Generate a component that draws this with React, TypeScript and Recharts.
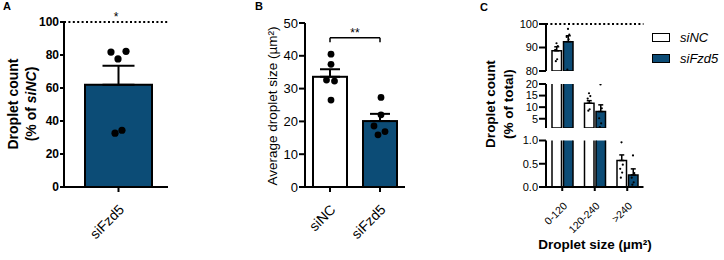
import React from 'react';
import { ComposedChart, Bar, Scatter, XAxis, YAxis, ErrorBar, ReferenceLine } from 'recharts';

const FONT = '"Liberation Sans", Arial, Helvetica, sans-serif';
const BLUE = '#0c4c76';
const INK = '#000';

// A: droplet count, % of siNC
const countGroups = ['siFzd5'];
const countMean = [62.0];
const countSem = [11.5];
const countDots = [81.8, 82.2, 77.6, 32.6, 34.4];
const countJitter = [-0.076, 0.076, -0.005, -0.035, 0.035];

// B: average droplet size (µm²)
const sizeGroups = ['siNC', 'siFzd5'];
const sizeMean = [33.6, 20.1];
const sizeSem = [2.3, 2.2];
const sizeDots = [
  [40.5, 37.4, 32.6, 32.3, 26.5],
  [27.3, 22.0, 18.6, 16.9, 15.9],
];
const sizeJitter = [
  [0.02, 0.02, -0.07, 0.09, 0.02],
  [0.02, 0.02, -0.12, 0.1, -0.04],
];
const bracketLevel = 45.5;
const bracketDrop = 44.1;

// C: droplet count, % of total, per size bin
const sizeBins = ['0-120', '120-240', '>240'];
const siNCShare = [88.6, 11.7, 0.57];
const siNCShareSem = [1.7, 1.1, 0.12];
const siFzd5Share = [92.5, 8.1, 0.26];
const siFzd5ShareSem = [2.5, 2.9, 0.13];
const siNCShareDots = [
  [91.8, 90.6, 89.0, 85.0, 84.2],
  [16.0, 14.8, 13.7, 9.1, 8.5],
  [0.96, 0.48, 0.39, 0.31, 0.2],
];
const siFzd5ShareDots = [
  [97.9, 95.5, 94.5, 93.5, 80.6],
  [19.8, 9.5, 5.2, 3.0, 1.4],
  [0.68, 0.3, 0.2, 0.1, 0.05],
];
const shareJitter = [0.0, 0.04, -0.04, 0.02, -0.02];
const legendItems = [
  { name: 'siNC', fill: '#fff' },
  { name: 'siFzd5', fill: BLUE },
];

type Segment = { lo: number; hi: number; ticks: number[]; top: number; bottom: number; decimals: number };
const segments: Segment[] = [
  { lo: 80, hi: 100, ticks: [80, 90, 100], top: 24, bottom: 189, decimals: 0 },
  { lo: 1, hi: 20, ticks: [5, 10, 15, 20], top: 84, bottom: 132, decimals: 0 },
  { lo: 0, hi: 1, ticks: [0, 0.5, 1], top: 140.5, bottom: 0, decimals: 1 },
];

const axisLine = { stroke: INK, strokeWidth: 2 };
const tickLine = { stroke: INK, strokeWidth: 2 };

const dotShape = (r: number) => (p: any) => <circle cx={p.cx} cy={p.cy} r={r} fill={INK} />;

function SlantTick(props: any) {
  const { x, y, payload, fs, dy } = props;
  return (
    <g transform={`translate(${x + 3},${y + dy}) rotate(-45)`}>
      <text x={0} y={0} dy="0.35em" textAnchor="end" fontSize={fs} fontFamily={FONT} fill={INK}>
        {payload.value}
      </text>
    </g>
  );
}

function RotatedLines({ lines, cy, size, weight }: any) {
  return (
    <g fontFamily={FONT} fontSize={size} fontWeight={weight} fill={INK}>
      {lines.map((l: any, i: number) => (
        <text key={i} transform={`translate(${l.x},${cy}) rotate(-90)`} textAnchor="middle" dominantBaseline="central">
          {l.content}
        </text>
      ))}
    </g>
  );
}

function CountChart() {
  const rows = countGroups.map((g, i) => ({ group: g, mean: countMean[i], err: [0, countSem[i]] }));
  const dots = countDots.map((v, k) => ({ x: countJitter[k], v }));
  return (
    <ComposedChart width={200} height={260} data={rows} margin={{ top: 22, right: 32, bottom: 0, left: 0 }}>
      <XAxis xAxisId="cat" dataKey="group" height={73} padding={{ left: 5, right: 0 }} interval={0} tickSize={5}
        axisLine={axisLine} tickLine={tickLine} tick={(p: any) => <SlantTick {...p} fs={14} dy={13} />} />
      <XAxis xAxisId="dot" type="number" dataKey="x" domain={[-0.5, 0.5]} allowDataOverflow hide padding={{ left: 5, right: 0 }} />
      <YAxis width={64} domain={[0, 100]} ticks={[0, 20, 40, 60, 80, 100]} interval={0} tickSize={4} tickMargin={1}
        axisLine={axisLine} tickLine={tickLine}
        tick={{ fill: INK, fontSize: 12, fontWeight: 700, fontFamily: FONT }}
        label={<RotatedLines cy={104} size={14} weight={700} lines={[
          { x: 13, content: 'Droplet count' },
          { x: 31, content: <>(% of <tspan fontStyle="italic">siNC</tspan>)</> },
        ]} />} />
      <ReferenceLine xAxisId="cat" y={100} stroke={INK} strokeWidth={2} strokeDasharray="2 2.4"
        label={{ value: '*', position: 'top', fill: INK, fontSize: 12, fontFamily: FONT, offset: 1 }} />
      <Bar xAxisId="cat" dataKey="mean" barSize={67} fill={BLUE} stroke={INK} strokeWidth={2} isAnimationActive={false}>
        <ErrorBar dataKey="err" direction="y" width={16} stroke={INK} strokeWidth={2} isAnimationActive={false} />
      </Bar>
      <Scatter xAxisId="dot" data={dots} dataKey="v" shape={dotShape(3.6)} isAnimationActive={false} />
    </ComposedChart>
  );
}

function SizeChart() {
  const rows = sizeGroups.map((g, i) => ({ group: g, mean: sizeMean[i], err: [0, sizeSem[i]] }));
  const dots = sizeDots.flatMap((vals, gi) => vals.map((v, k) => ({ x: gi + sizeJitter[gi][k], v })));
  return (
    <ComposedChart width={220} height={260} data={rows} margin={{ top: 23, right: 15, bottom: 0, left: 0 }}>
      <XAxis xAxisId="cat" dataKey="group" height={73} interval={0} tickSize={5}
        axisLine={axisLine} tickLine={tickLine} tick={(p: any) => <SlantTick {...p} fs={14} dy={13} />} />
      <XAxis xAxisId="dot" type="number" dataKey="x" domain={[-0.5, 1.5]} allowDataOverflow hide />
      <YAxis width={105} domain={[0, 50]} ticks={[0, 10, 20, 30, 40, 50]} interval={0} tickSize={6} tickMargin={1}
        axisLine={axisLine} tickLine={tickLine}
        tick={{ fill: INK, fontSize: 13, fontFamily: FONT }}
        label={<RotatedLines cy={106} size={13.5} weight={400} lines={[
          { x: 72, content: 'Average droplet size (µm²)' },
        ]} />} />
      <ReferenceLine xAxisId="cat" segment={[{ x: 'siNC', y: bracketLevel }, { x: 'siFzd5', y: bracketLevel }]}
        stroke={INK} strokeWidth={1.5}
        label={{ value: '**', position: 'top', fill: INK, fontSize: 12, fontFamily: FONT, offset: 1 }} />
      <ReferenceLine xAxisId="cat" segment={[{ x: 'siNC', y: bracketLevel }, { x: 'siNC', y: bracketDrop }]} stroke={INK} strokeWidth={1.5} />
      <ReferenceLine xAxisId="cat" segment={[{ x: 'siFzd5', y: bracketLevel }, { x: 'siFzd5', y: bracketDrop }]} stroke={INK} strokeWidth={1.5} />
      <Bar xAxisId="cat" dataKey="mean" barSize={34} stroke={INK} strokeWidth={2} isAnimationActive={false}
        shape={(p: any) => (
          <rect x={p.x} y={p.y} width={p.width} height={p.height} fill={p.index === 0 ? '#fff' : BLUE} stroke={INK} strokeWidth={2} />
        )}>
        <ErrorBar dataKey="err" direction="y" width={10} stroke={INK} strokeWidth={2} isAnimationActive={false} />
      </Bar>
      <Scatter xAxisId="dot" data={dots} dataKey="v" shape={dotShape(3.4)} isAnimationActive={false} />
    </ComposedChart>
  );
}

const inSeg = (v: number, s: Segment) => v >= s.lo && v <= s.hi;

function segmentDots(groups: number[][], side: number, s: Segment) {
  const out: { x: number; v: number }[] = [];
  groups.forEach((vals, gi) =>
    vals.forEach((v, k) => {
      if (inSeg(v, s)) out.push({ x: gi + side * 0.177 + shareJitter[k], v });
    })
  );
  return out;
}

function ShareSegment({ seg, last, labelled }: { seg: Segment; last: boolean; labelled: boolean }) {
  const rows = sizeBins.map((bin, i) => ({
    bin,
    nc: siNCShare[i] >= seg.lo ? siNCShare[i] : null,
    ncErr: inSeg(siNCShare[i], seg) ? [0, siNCShareSem[i]] : null,
    fz: siFzd5Share[i] >= seg.lo ? siFzd5Share[i] : null,
    fzErr: inSeg(siFzd5Share[i], seg) ? [0, siFzd5ShareSem[i]] : null,
  }));
  const dots = [...segmentDots(siNCShareDots, -1, seg), ...segmentDots(siFzd5ShareDots, 1, seg)];
  return (
    <ComposedChart width={250} height={260} data={rows} barGap={2}
      margin={{ top: seg.top, right: 6.5, bottom: seg.bottom, left: 0 }}>
      <XAxis xAxisId="cat" dataKey="bin" hide={!last} height={73} interval={0} tickSize={4}
        axisLine={axisLine} tickLine={tickLine} tick={(p: any) => <SlantTick {...p} fs={10.5} dy={11} />} />
      <XAxis xAxisId="dot" type="number" dataKey="x" domain={[-0.5, 2.5]} allowDataOverflow hide />
      <YAxis width={146} domain={[seg.lo, seg.hi]} ticks={seg.ticks} allowDataOverflow interval={0} tickSize={7} tickMargin={1}
        axisLine={axisLine} tickLine={tickLine}
        tick={{ fill: INK, fontSize: 11, fontFamily: FONT }}
        tickFormatter={(v: number) => v.toFixed(seg.decimals)}
        label={labelled ? <RotatedLines cy={104} size={13.5} weight={700} lines={[
          { x: 90, content: 'Droplet count' },
          { x: 108, content: '(% of total)' },
        ]} /> : undefined} />
      {seg.hi === 100 && (
        <ReferenceLine xAxisId="cat" y={100} stroke={INK} strokeWidth={2} strokeDasharray="2 2.4" />
      )}
      <Bar xAxisId="cat" dataKey="nc" barSize={9.5} fill="#fff" stroke={INK} strokeWidth={1.5} isAnimationActive={false}>
        <ErrorBar dataKey="ncErr" direction="y" width={2.5} stroke={INK} strokeWidth={1.5} isAnimationActive={false} />
      </Bar>
      <Bar xAxisId="cat" dataKey="fz" barSize={9.5} fill={BLUE} stroke={INK} strokeWidth={1.5} isAnimationActive={false}>
        <ErrorBar dataKey="fzErr" direction="y" width={2.5} stroke={INK} strokeWidth={1.5} isAnimationActive={false} />
      </Bar>
      <Scatter xAxisId="dot" data={dots} dataKey="v" shape={dotShape(1.1)} isAnimationActive={false} />
    </ComposedChart>
  );
}

function PanelLetter({ x, y, text }: { x: number; y: number; text: string }) {
  return (
    <div style={{ position: 'absolute', left: x, top: y, fontSize: 11, fontWeight: 700, lineHeight: '11px', color: INK }}>
      {text}
    </div>
  );
}

export default function App() {
  return (
    <div style={{ position: 'absolute', left: 0, top: 0, width: 724, height: 260, background: '#fff', fontFamily: FONT, overflow: 'hidden' }}>
      <div style={{ position: 'absolute', left: 0, top: 0 }}><CountChart /></div>
      <div style={{ position: 'absolute', left: 200, top: 0 }}><SizeChart /></div>
      {segments.map((s, i) => (
        <div key={i} style={{ position: 'absolute', left: 400, top: 0 }}>
          <ShareSegment seg={s} last={i === segments.length - 1} labelled={i === 1} />
        </div>
      ))}
      <div style={{ position: 'absolute', left: 534, top: 237, width: 122, textAlign: 'center', fontSize: 13.5, fontWeight: 700, lineHeight: '16px', color: INK }}>
        Droplet size (µm²)
      </div>
      <PanelLetter x={3} y={1} text="A" />
      <PanelLetter x={255} y={1} text="B" />
      <PanelLetter x={480} y={2} text="C" />
      <div style={{ position: 'absolute', left: 652, top: 27 }}>
        {legendItems.map((it) => (
          <div key={it.name} style={{ display: 'flex', alignItems: 'center', height: 21 }}>
            <div style={{ width: 16, height: 7, border: '1.5px solid #000', background: it.fill }} />
            <span style={{ marginLeft: 10, fontSize: 13, fontStyle: 'italic', color: INK }}>{it.name}</span>
          </div>
        ))}
      </div>
    </div>
  );
}
